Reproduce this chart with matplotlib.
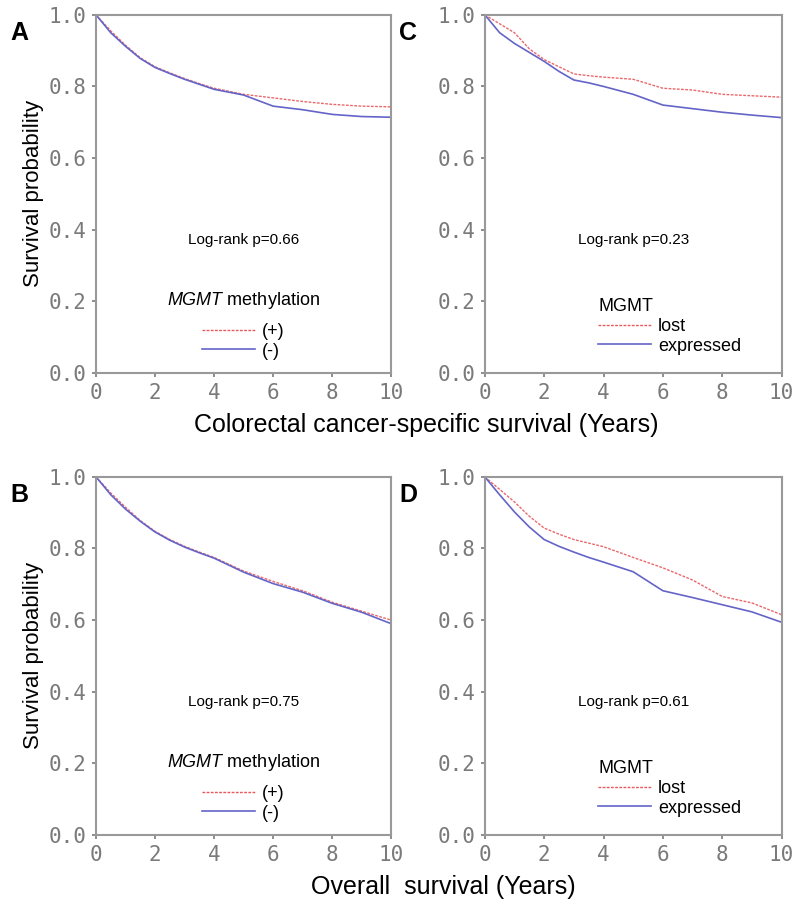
import matplotlib
matplotlib.use("Agg")
import matplotlib.pyplot as plt
from matplotlib.lines import Line2D

plt.rcParams['font.family'] = ['Liberation Sans', 'DejaVu Sans']
plt.rcParams['mathtext.fontset'] = 'custom'
plt.rcParams['mathtext.rm'] = 'Liberation Sans'
plt.rcParams['mathtext.it'] = 'Liberation Sans:italic'

years = [0, 0.5, 1, 1.5, 2, 2.5, 3, 3.5, 4, 5, 6, 7, 8, 9, 10]

# A: colorectal cancer-specific survival by MGMT methylation
a_pos = [1.0, 0.955, 0.915, 0.88, 0.855, 0.838, 0.822, 0.808, 0.795, 0.778, 0.768, 0.758, 0.75, 0.745, 0.743]
a_neg = [1.0, 0.950, 0.912, 0.878, 0.853, 0.836, 0.820, 0.806, 0.792, 0.776, 0.745, 0.735, 0.722, 0.716, 0.714]
# C: colorectal cancer-specific survival by MGMT expression
c_lost = [1.0, 0.975, 0.950, 0.905, 0.875, 0.855, 0.835, 0.830, 0.826, 0.820, 0.795, 0.790, 0.778, 0.774, 0.770]
c_expr = [1.0, 0.950, 0.920, 0.895, 0.870, 0.842, 0.818, 0.810, 0.800, 0.778, 0.748, 0.738, 0.728, 0.720, 0.713]
# B: overall survival by MGMT methylation
b_pos = [1.0, 0.955, 0.915, 0.878, 0.848, 0.825, 0.806, 0.790, 0.775, 0.737, 0.708, 0.682, 0.650, 0.625, 0.600]
b_neg = [1.0, 0.950, 0.910, 0.876, 0.846, 0.823, 0.804, 0.788, 0.773, 0.734, 0.702, 0.678, 0.647, 0.622, 0.590]
# D: overall survival by MGMT expression
d_lost = [1.0, 0.965, 0.930, 0.890, 0.857, 0.840, 0.825, 0.815, 0.805, 0.775, 0.746, 0.712, 0.666, 0.648, 0.615]
d_expr = [1.0, 0.950, 0.902, 0.860, 0.825, 0.806, 0.790, 0.775, 0.762, 0.735, 0.682, 0.663, 0.643, 0.623, 0.594]

xticks = [0, 2, 4, 6, 8, 10]
yticks = [0, 0.2, 0.4, 0.6, 0.8, 1.0]
ytick_labels = ["0.0", "0.2", "0.4", "0.6", "0.8", "1.0"]

panels = [
    ("A", [0.12, 0.5897, 0.369, 0.394], a_pos, a_neg, "Log-rank p=0.66", r"$\mathit{MGMT}$ methylation", ["(+)", "(-)"]),
    ("C", [0.606, 0.5897, 0.371, 0.394], c_lost, c_expr, "Log-rank p=0.23", "MGMT", ["lost", "expressed"]),
    ("B", [0.12, 0.0814, 0.369, 0.394], b_pos, b_neg, "Log-rank p=0.75", r"$\mathit{MGMT}$ methylation", ["(+)", "(-)"]),
    ("D", [0.606, 0.0814, 0.371, 0.394], d_lost, d_expr, "Log-rank p=0.61", "MGMT", ["lost", "expressed"]),
]

red = '#e8585c'
blue = '#6464c8'
gray = '#7a7a7a'

fig = plt.figure(figsize=(8, 9.09), dpi=100)

for letter, rect, s1, s2, ptxt, ltitle, labs in panels:
    ax = fig.add_axes(rect)
    ax.plot(years, s1, color=red, lw=1.0, ls=(0, (2, 1)), alpha=0.9)
    ax.plot(years, s2, color=blue, lw=1.2)
    ax.set_xlim(0, 10)
    ax.set_ylim(0, 1)
    ax.set_xticks(xticks)
    ax.set_xticklabels([str(t) for t in xticks], family='DejaVu Sans Mono', color=gray, fontsize=15)
    ax.set_yticks(yticks)
    ax.set_yticklabels(ytick_labels, family='DejaVu Sans Mono', color=gray, fontsize=15)
    ax.tick_params(direction='out', length=3, color=gray, width=1.2, pad=4)
    for sp in ax.spines.values():
        sp.set_color('#999999')
        sp.set_linewidth(1.5)
    ax.text(5.0, 0.37, ptxt, ha='center', va='center', fontsize=11)
    handles = [Line2D([], [], color=red, lw=1.0, ls=(0, (2, 1))),
               Line2D([], [], color=blue, lw=1.2)]
    if letter in ("A", "B"):
        leg = ax.legend(handles, labs, title=ltitle, loc='center', bbox_to_anchor=(0.5, 0.135),
                        frameon=False, fontsize=13, title_fontsize=13, handlelength=2.9,
                        handletextpad=0.4, labelspacing=0.15, borderpad=0.2)
        leg._legend_box.sep = 9
    else:
        leg = ax.legend(handles, labs, title=ltitle, loc='center left', bbox_to_anchor=(0.34, 0.13),
                        frameon=False, fontsize=13, title_fontsize=13, handlelength=2.9,
                        handletextpad=0.4, labelspacing=0.15, borderpad=0.2, alignment='left')
        leg._legend_box.sep = 2
    fig.text(rect[0] - 0.107, rect[1] + rect[3] - 0.02, letter, fontsize=18, fontweight='bold', va='center')
    if letter in ("A", "B"):
        ax.set_ylabel("Survival probability", fontsize=16, labelpad=3)

fig.text(0.5325, 0.532, "Colorectal cancer-specific survival (Years)", ha='center', va='center', fontsize=18)
fig.text(0.554, 0.024, "Overall  survival (Years)", ha='center', va='center', fontsize=18)

fig.savefig("out.png", dpi=100)
